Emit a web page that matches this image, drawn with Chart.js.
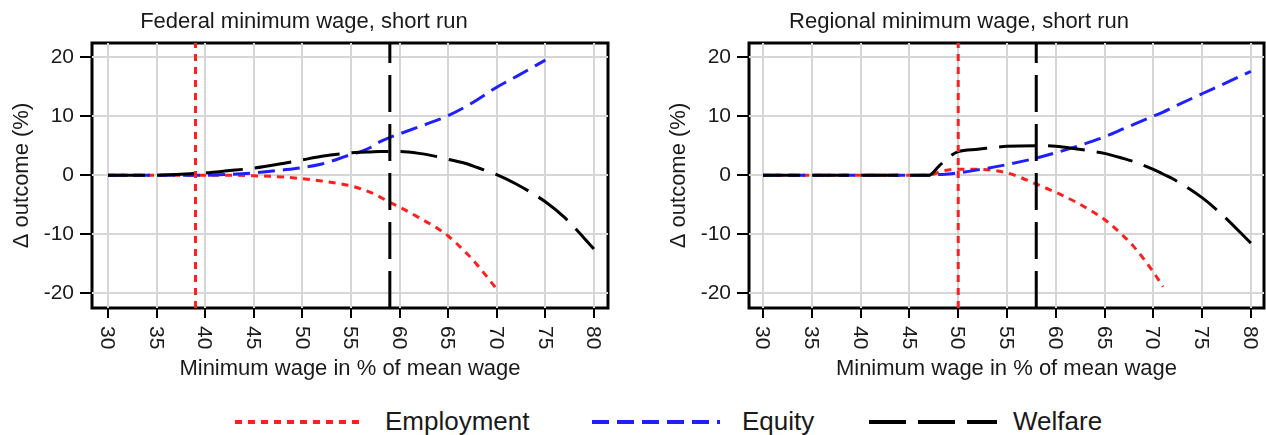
<!DOCTYPE html>
<html>
<head>
<meta charset="utf-8">
<title>Minimum wage, short run</title>
<script src="https://cdn.jsdelivr.net/npm/chart.js@4.4.1/dist/chart.umd.min.js"></script>
<style>
  html, body { margin: 0; padding: 0; background: #fff; }
  body {
    width: 1266px; height: 435px; position: relative; overflow: hidden;
    font-family: 'Liberation Sans', Arial, sans-serif; color: #1a1a1a;
  }
  .panel { position: absolute; top: 0; height: 390px; }
  #fedPanel { left: 0; width: 616px; }
  #regPanel { left: 654px; width: 612px; }
  .legend-line { position: absolute; top: 419px; }
  .legend-text { position: absolute; top: 404px; font-size: 26px; line-height: 34px; }
</style>
</head>
<body>
<div class="panel" id="fedPanel"><canvas id="fedChart"></canvas></div>
<div class="panel" id="regPanel"><canvas id="regChart"></canvas></div>

<svg class="legend-line" style="left:235px" width="128" height="6"><line x1="0" y1="3" x2="128" y2="3" stroke="#ff1f1f" stroke-width="4" stroke-dasharray="7 6"/></svg>
<div class="legend-text" style="left:385px">Employment</div>
<svg class="legend-line" style="left:592px" width="128" height="6"><line x1="0" y1="3" x2="128" y2="3" stroke="#1f1fff" stroke-width="4" stroke-dasharray="17 8"/></svg>
<div class="legend-text" style="left:742px">Equity</div>
<svg class="legend-line" style="left:869px" width="128" height="6"><line x1="0" y1="3" x2="128" y2="3" stroke="#000" stroke-width="4" stroke-dasharray="37 12"/></svg>
<div class="legend-text" style="left:1013px">Welfare</div>

<script>
// axis ticks shared by both panels
const xTicks = [30, 35, 40, 45, 50, 55, 60, 65, 70, 75, 80];
const yTicks = [-20, -10, 0, 10, 20];
const yMin = -22.5;
const yMax = 22.4;

// Federal minimum wage (left panel)
const fedX          = [30, 35, 39, 40, 42, 45, 48, 50, 52, 55, 56, 57, 58, 59, 60, 62, 64, 65, 67, 68, 70, 72, 75, 77, 80];
const fedEmployment = [0, 0, 0, 0, 0, -0.1, -0.3, -0.6, -1.0, -1.8, -2.3, -2.9, -3.7, -4.6, -5.4, -7.2, -9.1, -10.3, -13.4, -15.2, -19.3, null, null, null, null];
const fedEquity     = [0, 0, 0, 0, 0.1, 0.4, 0.9, 1.3, 1.9, 3.5, 4.0, 4.7, 5.7, 6.4, 7.0, 8.2, 9.4, 10.1, 11.8, 12.8, 14.9, 16.7, 19.5, null, null];
const fedWelfare    = [0, 0, 0.3, 0.4, 0.7, 1.2, 2.0, 2.6, 3.2, 3.8, 3.9, 3.95, 4.0, 4.0, 4.0, 3.7, 3.1, 2.7, 1.9, 1.3, 0.1, -1.5, -4.5, -7.2, -12.5];
const fedEmploymentRef = 39;
const fedWelfareRef = 59;

// Regional minimum wage (right panel)
const regX          = [30, 35, 40, 45, 47, 48, 49, 50, 52, 55, 58, 60, 62, 64, 65, 67, 68, 70, 71, 72, 75, 77, 80];
const regEmployment = [0, 0, 0, 0, 0, 0.5, 0.9, 1.0, 1.0, 0.4, -1.5, -2.9, -4.5, -6.4, -7.5, -10.4, -12.1, -16.4, -18.9, null, null, null, null];
const regEquity     = [0, 0, 0, 0, 0, 0.1, 0.2, 0.4, 0.9, 1.8, 2.9, 3.8, 4.8, 5.9, 6.5, 7.9, 8.6, 10.0, 10.7, 11.5, 13.8, 15.3, 17.6];
const regWelfare    = [0, 0, 0, 0, 0, 1.5, 3.0, 4.0, 4.4, 4.9, 5.0, 4.9, 4.5, 4.0, 3.7, 2.8, 2.3, 1.0, 0.2, -0.6, -3.8, -6.6, -11.5];
const regEmploymentRef = 50;
const regWelfareRef = 58;

const FONT = "'Liberation Sans', Arial, sans-serif";
const TEXT = '#1a1a1a';
const GRID = '#d6d6d6';
const RED = '#ff1f1f';
const BLUE = '#1f1fff';

Chart.defaults.font.family = FONT;
Chart.defaults.color = TEXT;

function toPoints(xs, ys) {
  const pts = [];
  xs.forEach((x, i) => {
    if (ys[i] !== null) pts.push({ x, y: ys[i] });
  });
  return pts;
}

function curve(data, color, dash) {
  return {
    data,
    borderColor: color,
    borderWidth: 3,
    borderDash: dash,
    pointRadius: 0,
    fill: false,
    cubicInterpolationMode: 'monotone',
  };
}

function refLine(x, color, dash) {
  return {
    data: toPoints([x, x], [yMin, yMax]),
    borderColor: color,
    borderWidth: 3,
    borderDash: dash,
    pointRadius: 0,
    fill: false,
    tension: 0,
  };
}

// black frame round the plot region
const frameBox = {
  id: 'frameBox',
  beforeDraw(chart) {
    const { ctx, chartArea: a } = chart;
    ctx.save();
    ctx.strokeStyle = '#000';
    ctx.lineWidth = 3;
    ctx.strokeRect(a.left, a.top, a.right - a.left, a.bottom - a.top);
    ctx.restore();
  },
};

// x tick labels read top to bottom (rotated clockwise)
const verticalTickLabels = {
  id: 'verticalTickLabels',
  afterDraw(chart) {
    const scale = chart.scales.x;
    const ctx = chart.ctx;
    ctx.save();
    ctx.font = `21px ${FONT}`;
    ctx.fillStyle = TEXT;
    ctx.textAlign = 'left';
    ctx.textBaseline = 'middle';
    scale.ticks.forEach((t) => {
      const px = scale.getPixelForValue(t.value);
      ctx.save();
      ctx.translate(px - 1, chart.chartArea.bottom + 18);
      ctx.rotate(Math.PI / 2);
      ctx.fillText(String(t.value), 0, 0);
      ctx.restore();
    });
    ctx.restore();
  },
};

function makeChart(canvasId, cfg) {
  const ctx = document.getElementById(canvasId).getContext('2d');
  return new Chart(ctx, {
    type: 'line',
    data: {
      datasets: [
        refLine(cfg.welfareRef, '#000', [37, 12]),
        refLine(cfg.employmentRef, RED, [7, 6]),
        curve(toPoints(cfg.xs, cfg.welfare), '#000', [37, 12]),
        curve(toPoints(cfg.xs, cfg.equity), BLUE, [17, 8]),
        curve(toPoints(cfg.xs, cfg.employment), RED, [7, 6]),
      ],
    },
    options: {
      responsive: true,
      maintainAspectRatio: false,
      animation: false,
      layout: { padding: { left: 0, right: cfg.padRight, top: 0, bottom: 0 } },
      plugins: {
        legend: { display: false },
        tooltip: { enabled: false },
        title: {
          display: true,
          text: cfg.title,
          color: TEXT,
          font: { size: 22, weight: 'normal' },
          padding: { top: 9, bottom: 7.6 },
        },
      },
      scales: {
        x: {
          type: 'linear',
          min: cfg.xMin,
          max: cfg.xMax,
          afterBuildTicks: (axis) => { axis.ticks = xTicks.map((v) => ({ value: v })); },
          afterFit: (axis) => { axis.height = 82; },
          grid: { color: GRID, lineWidth: 2, tickColor: '#000', tickWidth: 2, tickLength: 10 },
          border: { display: false },
          ticks: { display: false },
          title: {
            display: true,
            text: 'Minimum wage in % of mean wage',
            color: TEXT,
            font: { size: 22 },
            padding: { top: 0, bottom: 8 },
          },
        },
        y: {
          type: 'linear',
          min: yMin,
          max: yMax,
          afterBuildTicks: (axis) => { axis.ticks = yTicks.map((v) => ({ value: v })); },
          afterFit: (axis) => { axis.width = cfg.yAxisWidth; },
          grid: { color: GRID, lineWidth: 2, tickColor: '#000', tickWidth: 2, tickLength: 12 },
          border: { display: false },
          ticks: { color: TEXT, font: { size: 21 }, padding: 6 },
          title: {
            display: true,
            text: 'Δ outcome (%)',
            color: TEXT,
            font: { size: 22 },
            padding: { top: cfg.yTitlePad, bottom: 0 },
          },
        },
      },
    },
    plugins: [frameBox, verticalTickLabels],
  });
}

makeChart('fedChart', {
  title: 'Federal minimum wage, short run',
  xs: fedX,
  employment: fedEmployment,
  equity: fedEquity,
  welfare: fedWelfare,
  employmentRef: fedEmploymentRef,
  welfareRef: fedWelfareRef,
  xMin: 28.35,
  xMax: 81.45,
  yAxisWidth: 92,
  yTitlePad: 9,
  padRight: 8,
});

makeChart('regChart', {
  title: 'Regional minimum wage, short run',
  xs: regX,
  employment: regEmployment,
  equity: regEquity,
  welfare: regWelfare,
  employmentRef: regEmploymentRef,
  welfareRef: regWelfareRef,
  xMin: 28.55,
  xMax: 81.35,
  yAxisWidth: 95,
  yTitlePad: 12,
  padRight: 2,
});
</script>
</body>
</html>
